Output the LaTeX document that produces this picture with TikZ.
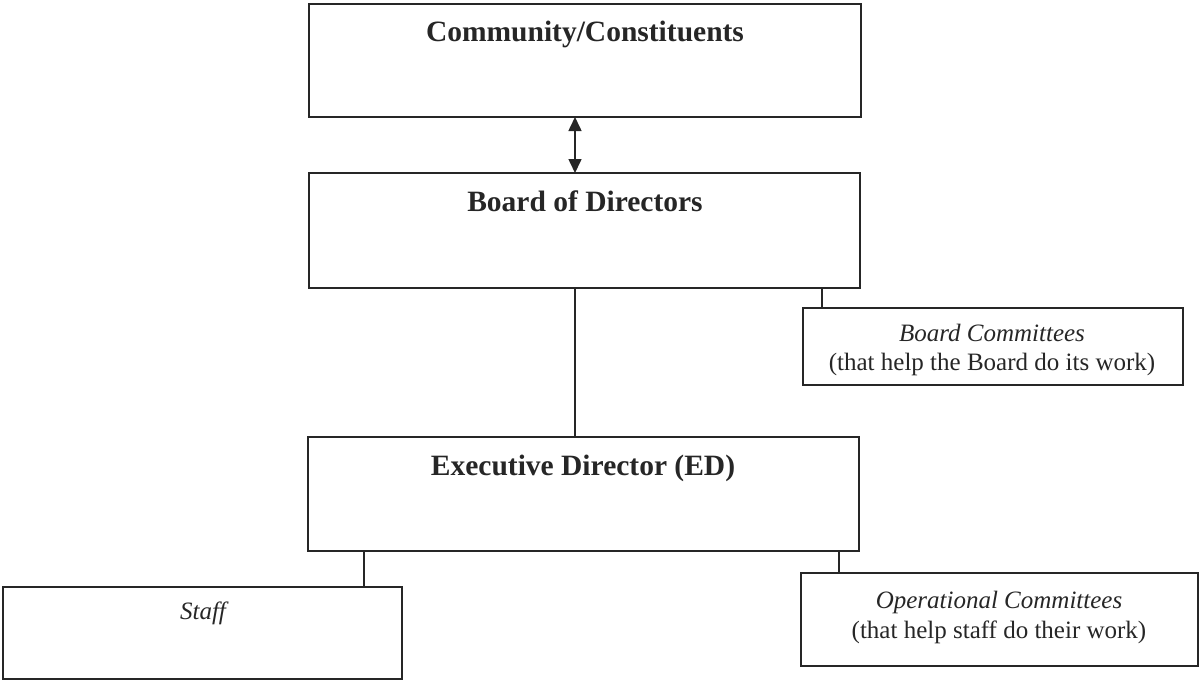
\documentclass[tikz,border=0pt]{standalone}
\usepackage{fontspec}
\setmainfont{Liberation Serif}
\usetikzlibrary{arrows.meta}
\begin{document}
\begin{tikzpicture}[x=1pt,y=-1pt,
  box/.style={draw=black!85, line width=1.6pt, rectangle, inner sep=0pt, outer sep=0pt, anchor=north west},
  link/.style={draw=black!85, line width=1.6pt},
  tip/.style={Triangle[length=14pt,width=13pt]},
  title/.style={font=\fontsize{29.5}{35}\selectfont\bfseries, text=black!85, anchor=base, inner sep=0pt},
  sub/.style={font=\fontsize{25}{30}\selectfont, text=black!85, anchor=base, inner sep=0pt},
  subit/.style={sub, font=\fontsize{25}{30}\selectfont\itshape}]
\useasboundingbox (0,0) rectangle (1199,681);
% boxes
\node[box, minimum width=552pt, minimum height=113pt] (comm)  at (309,4) {};
\node[box, minimum width=551pt, minimum height=115pt] (board) at (309,173) {};
\node[box, minimum width=380pt, minimum height=77pt]  (bc)    at (803,308) {};
\node[box, minimum width=551pt, minimum height=114pt] (ed)    at (308,437) {};
\node[box, minimum width=399pt, minimum height=92pt]  (staff) at (3,587) {};
\node[box, minimum width=397pt, minimum height=93pt]  (oc)    at (801,573) {};
% texts
\node[title] (commT)  at (585,41)  {Community/Constituents};
\node[title] (boardT) at (585,211) {Board of Directors};
\node[title] (edT)    at (583,475) {Executive Director (ED)};
\node[subit] (bcT1)   at (992,341) {Board Committees};
\node[sub]   (bcT2)   at (992,370) {(that help the Board do its work)};
\node[subit] (staffT) at (203,619) {Staff};
\node[subit] (ocT1)   at (999,608) {Operational Committees};
\node[sub]   (ocT2)   at (999,638) {(that help staff do their work)};
% connector x positions
\coordinate (xa) at (575,0);
\coordinate (xb) at (822,0);
\coordinate (xs) at (364,0);
\coordinate (xo) at (839,0);
% connectors
\draw[link, {Triangle[length=14pt,width=13pt]}-{Triangle[length=14pt,width=13pt]}] (xa |- comm.south) -- (xa |- board.north);
\draw[link] (xa |- board.south) -- (xa |- ed.north);
\draw[link] (xb |- board.south) -- (xb |- bc.north);
\draw[link] (xs |- ed.south) -- (xs |- staff.north);
\draw[link] (xo |- ed.south) -- (xo |- oc.north);
\end{tikzpicture}
\end{document}
